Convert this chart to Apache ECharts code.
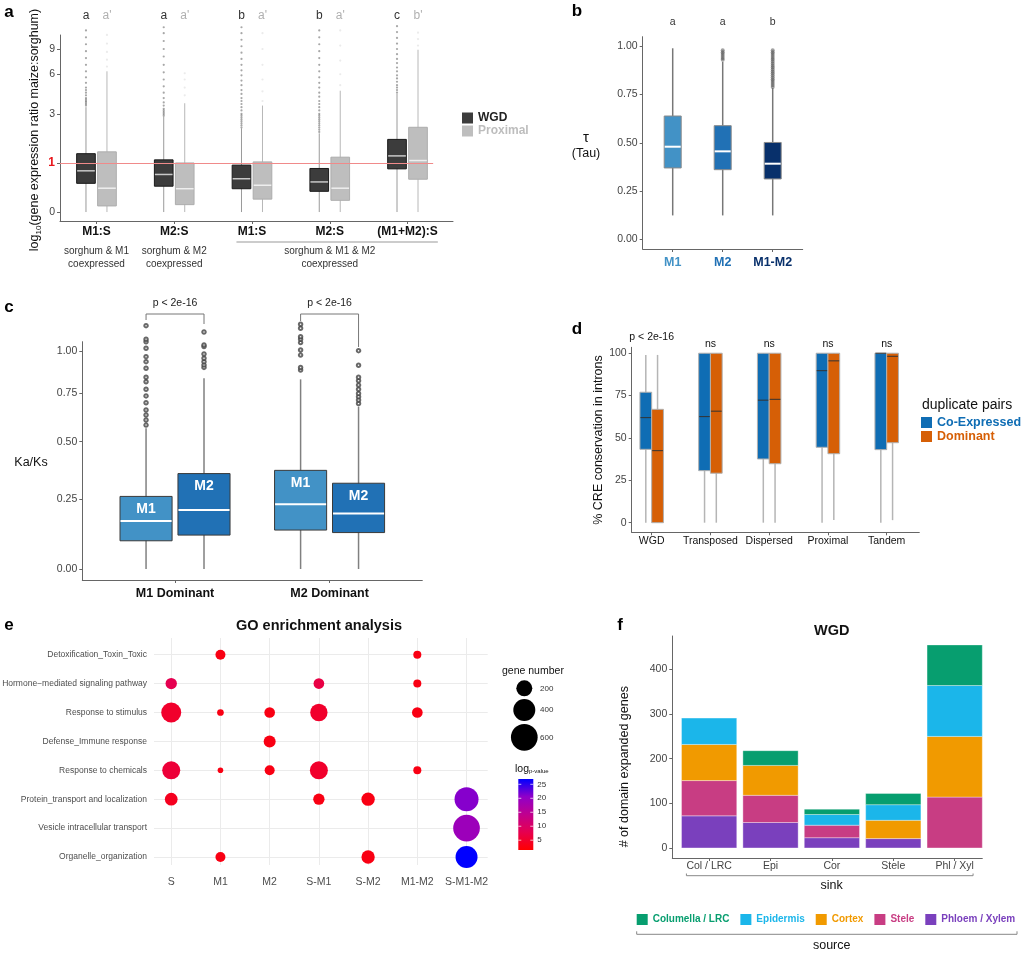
<!DOCTYPE html>
<html>
<head>
<meta charset="utf-8">
<script src="https://cdn.jsdelivr.net/npm/echarts@6/dist/echarts.min.js"></script>
<style>
  html, body { margin: 0; padding: 0; background: #fff; }
  #main { width: 1024px; height: 953px; }
</style>
</head>
<body>
<div id="main"></div>
<script>
const FONT = '"Liberation Sans", Arial, sans-serif'

// ---- panel a : log(1+x) expression ratio boxplots
const aGroups = ['M1:S', 'M2:S', 'M1:S', 'M2:S', '(M1+M2):S']
const aLettersWgd = ['a', 'a', 'b', 'b', 'c']
const aLettersProx = ["a'", "a'", "a'", "a'", "b'"]
const aTicks = [0, 1, 3, 6, 9]
// [lower whisker, q1, median, q3, upper whisker]
const aWgd = [[0, 0.50, 0.79, 1.28, 3.4], [0, 0.44, 0.70, 1.09, 2.85], [0, 0.39, 0.60, 0.94, 2.26], [0, 0.34, 0.53, 0.85, 2.04], [0, 0.84, 1.21, 1.79, 4.3]]
const aProx = [[0, 0.09, 0.40, 1.34, 6.3], [0, 0.11, 0.39, 1.0, 3.65], [0, 0.20, 0.46, 1.03, 3.5], [0, 0.18, 0.40, 1.17, 4.55], [0, 0.59, 1.07, 2.31, 8.9]]
const aWgdOut = [
  [3.5, 3.6, 3.7, 3.8, 3.9, 4.0, 4.2, 4.4, 4.6, 4.8, 5.2, 5.7, 6.3, 7, 7.8, 8.7, 9.7, 10.8, 12],
  [2.9, 3.0, 3.1, 3.2, 3.3, 3.5, 3.7, 4.0, 4.4, 4.9, 5.5, 6.2, 7, 8, 9, 10.2, 11.5, 12.6],
  [2.3, 2.4, 2.5, 2.6, 2.7, 2.8, 2.9, 3.0, 3.2, 3.4, 3.6, 3.8, 4.0, 4.3, 4.6, 5.0, 5.4, 5.9, 6.4, 7, 7.7, 8.5, 9.4, 10.4, 11.5, 12.6],
  [2.1, 2.2, 2.3, 2.4, 2.5, 2.6, 2.7, 2.8, 2.9, 3.0, 3.2, 3.4, 3.6, 3.8, 4.1, 4.4, 4.8, 5.2, 5.7, 6.3, 7, 7.8, 8.7, 9.7, 10.8, 12],
  [4.4, 4.6, 4.8, 5.0, 5.3, 5.6, 5.9, 6.3, 6.7, 7.2, 7.7, 8.3, 9, 9.8, 10.7, 11.7, 12.8]
]
const aProxOut = [[6.8, 7.6, 8.6, 9.8, 11.2], [4.2, 4.8, 5.5, 6.1], [3.8, 4.5, 5.5, 7, 9, 11.5], [5, 6, 7.5, 9.5, 12], [9.5, 10.5, 11.6]]

// ---- panel b : tau
const bCats = ['M1', 'M2', 'M1-M2']
const bColors = ['#4292c6', '#2171b5', '#08306b']
const bLetters = ['a', 'a', 'b']
const bStats = [[0.124, 0.370, 0.480, 0.639, 0.99], [0.124, 0.361, 0.456, 0.589, 0.92], [0.124, 0.313, 0.392, 0.502, 0.783]]
const bOut = [[], [0.93, 0.94, 0.95, 0.96, 0.97, 0.98],
  [0.79, 0.80, 0.81, 0.82, 0.83, 0.84, 0.85, 0.86, 0.87, 0.88, 0.89, 0.90, 0.91, 0.92, 0.93, 0.94, 0.95, 0.96, 0.97, 0.98]]
const bTicks = [0, 0.25, 0.5, 0.75, 1]

// ---- panel c : Ka/Ks
const cGroups = ['M1 Dominant', 'M2 Dominant']
const cTicks = [0, 0.25, 0.5, 0.75, 1]
const cM1 = [[0, 0.094, 0.165, 0.26, 0.565], [0, 0.132, 0.229, 0.369, 0.829]]
const cM2 = [[0, 0.114, 0.207, 0.355, 0.835], [0, 0.123, 0.193, 0.314, 0.677]]
const cM1Out = [[0.581, 0.607, 0.633, 0.659, 0.698, 0.735, 0.772, 0.815, 0.841, 0.895, 0.935, 0.966, 1.019, 1.062, 1.078, 1.17],
  [0.884, 0.90, 0.976, 1.008, 1.056, 1.078, 1.095, 1.152, 1.18]]
const cM2Out = [[0.90, 0.915, 0.935, 0.956, 0.983, 1.03, 1.041, 1.127],
  [0.694, 0.713, 0.731, 0.749, 0.772, 0.796, 0.821, 0.841, 0.913, 1.004]]

// ---- panel d : CRE conservation
const dCats = ['WGD', 'Transposed', 'Dispersed', 'Proximal', 'Tandem']
const dSig = ['p < 2e-16', 'ns', 'ns', 'ns', 'ns']
const dTicks = [0, 25, 50, 75, 100]
const dCo = [[0, 43.3, 62, 77, 99], [0, 30.7, 62.6, 100, 100], [0, 37.6, 72.3, 100, 100], [0, 44.5, 89.7, 100, 100], [0, 43.1, 100, 100, 100]]
const dDom = [[0, 0, 42.5, 66.9, 99], [0, 29.2, 65.8, 100, 100], [0, 34.8, 72.8, 100, 100], [1.6, 40.7, 95.5, 100, 100], [1.5, 47.2, 98.2, 100, 100]]

// ---- panel e : GO enrichment
const goTerms = ['Detoxification_Toxin_Toxic', 'Hormone\u2212mediated signaling pathway', 'Response to stimulus', 'Defense_Immune response',
  'Response to chemicals', 'Protein_transport and localization', 'Vesicle intracellular transport', 'Organelle_organization']
const goGroups = ['S', 'M1', 'M2', 'S-M1', 'S-M2', 'M1-M2', 'S-M1-M2']
// [group, term, gene number, log p-value]
const goPoints = [
  [1, 0, 63, 3], [5, 0, 32, 3],
  [0, 1, 88, 8], [3, 1, 75, 7], [5, 1, 32, 3],
  [0, 2, 326, 5], [1, 2, 15, 3], [2, 2, 75, 3], [3, 2, 239, 5], [5, 2, 75, 3],
  [2, 3, 102, 3],
  [0, 4, 260, 6], [1, 4, 3, 3], [2, 4, 63, 3], [3, 4, 260, 5], [5, 4, 32, 3],
  [0, 5, 117, 4], [3, 5, 88, 3], [4, 5, 131, 3], [6, 5, 480, 21],
  [6, 6, 600, 19],
  [1, 7, 63, 3], [4, 7, 131, 3], [6, 7, 400, 27]
]
const sizeLegend = [200, 400, 600]
const lpTicks = [5, 10, 15, 20, 25]
const lpMin = 1.5, lpMax = 26.9
const lpColors = ['#ff0000', '#e6004f', '#c0008e', '#9000c8', '#0000ff']

// ---- panel f : domain expanded genes (WGD)
const fSinks = ['Col / LRC', 'Epi', 'Cor', 'Stele', 'Phl / Xyl']
const fTicks = [0, 100, 200, 300, 400]
const fSources = ['Columella / LRC', 'Epidermis', 'Cortex', 'Stele', 'Phloem / Xylem']
const fColors = ['#079e6f', '#1bb6ea', '#f19a00', '#c83d83', '#7a40bd']
const fValues = [
  [0, 33, 12, 25, 91],    // Columella / LRC
  [59, 0, 24, 35, 114],   // Epidermis
  [81, 67, 0, 41, 136],   // Cortex
  [79, 61, 28, 0, 114],   // Stele
  [72, 57, 23, 21, 0]     // Phloem / Xylem
]

const tfA = v => Math.log10(1 + v)
const tfC = v => Math.log2(1 + v)
const ident = v => v
const sizeFn = g => Math.sqrt(28 + 1.14 * g)

function boxSeries(name, g, stats, tf, st) {
  return {
    name, type: 'custom', xAxisIndex: g, yAxisIndex: g,
    itemStyle: { color: Array.isArray(st.fill) ? st.fill[0] : st.fill },
    data: stats.map((s, i) => [i + 1].concat(s.map(tf))),
    renderItem: (params, api) => {
      const x = api.value(0) + st.offset
      const p = [1, 2, 3, 4, 5].map(d => api.coord([x, api.value(d)]))
      const cx = p[0][0]
      const w = api.size([st.width, 0])[0]
      const fill = Array.isArray(st.fill) ? st.fill[params.dataIndex] : st.fill
      const kids = [
        { type: 'line', shape: { x1: cx, y1: p[0][1], x2: cx, y2: p[4][1] }, style: { stroke: st.whisker, lineWidth: st.whiskerWidth || 1 } },
        { type: 'rect', shape: { x: cx - w / 2, y: p[3][1], width: w, height: p[1][1] - p[3][1] }, style: { fill, stroke: st.border, lineWidth: 1 } },
        { type: 'line', shape: { x1: cx - w / 2 + 0.5, y1: p[2][1], x2: cx + w / 2 - 0.5, y2: p[2][1] }, style: { stroke: st.median, lineWidth: st.medianWidth || 1.5 } }
      ]
      if (st.label) {
        kids.push({ type: 'text', x: cx, y: p[3][1] + 13, style: { text: st.label, fill: '#fff', font: 'bold 14px ' + FONT, align: 'center', verticalAlign: 'middle' } })
      }
      return { type: 'group', children: kids }
    }
  }
}

function outSeries(g, lists, offset, tf, st) {
  const data = []
  lists.forEach((l, i) => l.forEach(v => data.push([i + 1 + offset, tf(v)])))
  return {
    type: 'scatter', xAxisIndex: g, yAxisIndex: g, data, silent: true, clip: false,
    symbol: st.symbol || 'circle', symbolSize: st.size, itemStyle: st.itemStyle, z: 3
  }
}

function axis(g, min, max, ticks, formatter, o) {
  o = o || {}
  return {
    type: 'value', gridIndex: g, min, max, inverse: !!o.inverse, position: o.position,
    axisLine: { show: o.line !== false, onZero: false, lineStyle: { color: '#666', width: 1 } },
    axisTick: { show: o.tick !== false, customValues: ticks, length: 3, lineStyle: { color: '#666' } },
    axisLabel: {
      show: o.label !== false, customValues: ticks, formatter, color: o.color || '#444', fontSize: o.size || 10.5,
      fontFamily: FONT, fontWeight: o.weight || 'normal', margin: o.margin == null ? 5 : o.margin, rich: o.rich
    },
    splitLine: { show: !!o.split, lineStyle: { color: '#ebebeb', width: 1 } }
  }
}

const catFmt = cats => v => cats[Math.round(v) - 1]

const grids = [
  { left: 60, top: 35, width: 393, height: 186 },         // a
  { left: 642.7, top: 36.7, width: 160, height: 212.3 },  // b
  { left: 82.3, top: 341.7, width: 340, height: 238.3 },  // c
  { left: 631.7, top: 347.3, width: 287.6, height: 185 }, // d
  { left: 154, top: 638, width: 333.7, height: 227 },     // e
  { left: 672.3, top: 636, width: 310, height: 222 },     // f
  { left: 518.3, top: 779, width: 15, height: 71 }        // e colour bar
].map(g => Object.assign({ outerBoundsMode: 'none' }, g))

const xAxes = [
  axis(0, 0.531, 5.585, [1, 2, 3, 4, 5], catFmt(aGroups), { weight: 'bold', size: 12, color: '#111', margin: 5 }),
  axis(1, 0.4, 3.6, [1, 2, 3], v => '{c' + (Math.round(v) - 1) + '|' + bCats[Math.round(v) - 1] + '}', {
    margin: 7, rich: { c0: { color: bColors[0], fontWeight: 'bold', fontSize: 12.5, fontFamily: FONT }, c1: { color: bColors[1], fontWeight: 'bold', fontSize: 12.5, fontFamily: FONT }, c2: { color: bColors[2], fontWeight: 'bold', fontSize: 12.5, fontFamily: FONT } }
  }),
  axis(2, 0.4, 2.6, [1, 2], catFmt(cGroups), { weight: 'bold', size: 12.5, color: '#111', margin: 7 }),
  axis(3, 0.66, 5.555, [1, 2, 3, 4, 5], catFmt(dCats), { color: '#111', margin: 3 }),
  axis(4, 0.65, 7.43, [1, 2, 3, 4, 5, 6, 7], catFmt(goGroups), { line: false, tick: false, split: true, margin: 12, color: '#4d4d4d' }),
  axis(5, 0.4, 5.45, [1, 2, 3, 4, 5], catFmt(fSinks), { margin: 3, color: '#444' }),
  Object.assign(axis(6, 0, 1, [], null, { line: false, tick: false, label: false }), { show: false })
]

const yAxes = [
  axis(0, -0.055, 1.086, aTicks.map(tfA), v => {
    const n = Math.round(Math.pow(10, v) - 1)
    return n === 1 ? '{r|1}' : String(n)
  }, { rich: { r: { color: '#e8141a', fontWeight: 'bold', fontSize: 12, fontFamily: FONT } } }),
  axis(1, -0.05, 1.05, bTicks, v => v.toFixed(2)),
  axis(2, -0.0505, 1.044, cTicks.map(tfC), v => (Math.pow(2, v) - 1).toFixed(2)),
  axis(3, -5.67, 103.5, dTicks, v => String(v)),
  axis(4, 0.422, 8.277, [1, 2, 3, 4, 5, 6, 7, 8], catFmt(goTerms), { inverse: true, line: false, tick: false, split: true, size: 8.5, margin: 7, color: '#4d4d4d' }),
  axis(5, -22.5, 475, fTicks, v => String(v), { size: 10.5 }),
  axis(6, lpMin, lpMax, lpTicks, v => String(v), { position: 'right', line: false, tick: false, size: 8, margin: 4, color: '#333' })
]

const series = [
  Object.assign(boxSeries('WGD', 0, aWgd, tfA, { offset: -0.135, width: 0.24, fill: '#3c3c3c', border: '#1a1a1a', median: '#c8c8c8', whisker: '#9a9a9a', medianWidth: 1.5 }), {
    markLine: {
      silent: true, symbol: 'none', label: { show: false },
      lineStyle: { color: '#f08a8a', type: 'solid', width: 1 },
      data: [[{ coord: [0.531, tfA(1)] }, { coord: [5.33, tfA(1)] }]]
    }
  }),
  boxSeries('Proximal', 0, aProx, tfA, { offset: 0.135, width: 0.24, fill: '#bebebe', border: '#adadad', median: '#eeeeee', whisker: '#b8b8b8', medianWidth: 1.5 }),
  outSeries(0, aWgdOut, -0.135, tfA, { size: 2.2, itemStyle: { color: '#222', opacity: 0.4 } }),
  outSeries(0, aProxOut, 0.135, tfA, { size: 2.2, itemStyle: { color: '#999', opacity: 0.2 } }),

  boxSeries('tau', 1, bStats, ident, { offset: 0, width: 0.34, fill: bColors, border: '#8a8a8a', median: '#fff', whisker: '#777', whiskerWidth: 1.5, medianWidth: 2 }),
  outSeries(1, bOut, 0, ident, { size: 4, itemStyle: { color: '#444', opacity: 0.5 } }),

  boxSeries('cM1', 2, cM1, tfC, { offset: -0.1875, width: 0.337, fill: '#4292c6', border: '#3a3a3a', median: '#fff', whisker: '#808080', whiskerWidth: 1.5, medianWidth: 2, label: 'M1' }),
  boxSeries('cM2', 2, cM2, tfC, { offset: 0.1875, width: 0.337, fill: '#2171b5', border: '#3a3a3a', median: '#fff', whisker: '#808080', whiskerWidth: 1.5, medianWidth: 2, label: 'M2' }),
  outSeries(2, cM1Out, -0.1875, tfC, { size: 3.5, symbol: 'emptyCircle', itemStyle: { color: '#444', borderWidth: 0.8 } }),
  outSeries(2, cM2Out, 0.1875, tfC, { size: 3.5, symbol: 'emptyCircle', itemStyle: { color: '#444', borderWidth: 0.8 } }),

  boxSeries('Co-Expressed', 3, dCo, ident, { offset: -0.1, width: 0.2, fill: '#0f6db4', border: '#b0b0b0', median: '#333', whisker: '#b5b5b5', whiskerWidth: 1.5, medianWidth: 1 }),
  boxSeries('Dominant', 3, dDom, ident, { offset: 0.1, width: 0.2, fill: '#d65f06', border: '#b0b0b0', median: '#333', whisker: '#b5b5b5', whiskerWidth: 1.5, medianWidth: 1 }),

  {
    type: 'scatter', xAxisIndex: 4, yAxisIndex: 4, silent: true,
    data: goPoints.map(p => [p[0] + 1, p[1] + 1, p[2], p[3]]),
    symbolSize: val => sizeFn(val[2]),
    itemStyle: { opacity: 1 }
  }
]
const goIdx = series.length - 1

// stacked bars, bottom source first: Phloem / Xylem, Stele, Cortex, Epidermis, Columella / LRC
const fBase = fSinks.map(() => 0)
for (let j = fSources.length - 1; j >= 0; j--) {
  const data = fValues[j].map((v, i) => {
    const item = [i + 1, fBase[i], fBase[i] + v]
    fBase[i] += v
    return item
  })
  series.push({
    name: fSources[j], type: 'custom', xAxisIndex: 5, yAxisIndex: 5,
    itemStyle: { color: fColors[j] }, data,
    renderItem: (params, api) => {
      if (api.value(2) <= api.value(1)) return null
      const lo = api.coord([api.value(0), api.value(1)]), hi = api.coord([api.value(0), api.value(2)])
      const w = api.size([0.9, 0])[0]
      return {
        type: 'rect', shape: { x: lo[0] - w / 2, y: hi[1], width: w, height: lo[1] - hi[1] },
        style: { fill: fColors[j], stroke: 'rgba(255,255,255,0.35)', lineWidth: 1 }
      }
    }
  })
}

series.push({
  type: 'custom', xAxisIndex: 6, yAxisIndex: 6, silent: true, data: [[0, lpMin]],
  renderItem: (params, api) => {
    const a = api.coord([0, lpMax]), b = api.coord([1, lpMin])
    const stops = lpColors.slice().reverse().map((c, i, arr) => ({ offset: i / (arr.length - 1), color: c }))
    const kids = [{ type: 'rect', shape: { x: a[0], y: a[1], width: b[0] - a[0], height: b[1] - a[1] }, style: { fill: new echarts.graphic.LinearGradient(0, 0, 0, 1, stops) } }]
    lpTicks.forEach(t => {
      const y = api.coord([0, t])[1]
      kids.push({ type: 'line', shape: { x1: a[0], y1: y, x2: a[0] + 3, y2: y }, style: { stroke: 'rgba(255,255,255,0.7)' } })
      kids.push({ type: 'line', shape: { x1: b[0] - 3, y1: y, x2: b[0], y2: y }, style: { stroke: 'rgba(255,255,255,0.7)' } })
    })
    return { type: 'group', children: kids }
  }
})

const chart = echarts.init(document.getElementById('main'))
chart.setOption({
  animation: false,
  backgroundColor: '#fff',
  textStyle: { fontFamily: FONT },
  grid: grids,
  xAxis: xAxes,
  yAxis: yAxes,
  visualMap: { show: false, type: 'continuous', seriesIndex: goIdx, dimension: 3, min: lpMin, max: lpMax, inRange: { color: lpColors } },
  legend: [
    {
      left: 462, top: 112, orient: 'vertical', padding: 0, itemGap: 1, itemWidth: 11, itemHeight: 11, icon: 'rect',
      data: [{ name: 'WGD', textStyle: { color: '#222' } }, { name: 'Proximal', textStyle: { color: '#bdbdbd' } }],
      textStyle: { fontWeight: 'bold', fontSize: 12, fontFamily: FONT }
    },
    {
      left: 921, top: 416, orient: 'vertical', padding: 0, itemGap: 1, itemWidth: 11, itemHeight: 11, icon: 'rect',
      data: [{ name: 'Co-Expressed', textStyle: { color: '#0f6db4' } }, { name: 'Dominant', textStyle: { color: '#d65f06' } }],
      textStyle: { fontWeight: 'bold', fontSize: 12.5, fontFamily: FONT }
    },
    {
      left: 636.7, top: 914, width: 387, orient: 'horizontal', padding: 0, itemGap: 11, itemWidth: 11, itemHeight: 11, icon: 'rect',
      data: fSources.map((n, i) => ({ name: n, textStyle: { color: fColors[i] } })),
      textStyle: { fontWeight: 'bold', fontSize: 10, fontFamily: FONT }
    }
  ],
  series
})

// annotations placed from the axes
const px = (g, x, y) => chart.convertToPixel({ gridIndex: g }, [x, y])
const T = (x, y, text, size, o) => {
  o = o || {}
  return {
    type: 'text', x, y, rotation: o.rot || 0, silent: true,
    style: Object.assign({
      text, font: (o.weight || 'normal') + ' ' + size + 'px ' + FONT, fill: o.fill || '#222',
      align: o.align || 'center', verticalAlign: 'middle', lineHeight: o.lh
    }, o.style || {})
  }
}
const L = (points, stroke, w) => ({ type: 'polyline', silent: true, shape: { points }, style: { stroke: stroke || '#999', lineWidth: w || 1, fill: null } })

const gfx = []
// panel letters
gfx.push(T(9, 12, 'a', 17, { weight: 'bold', fill: '#000' }))
gfx.push(T(577, 11, 'b', 17, { weight: 'bold', fill: '#000' }))
gfx.push(T(9, 307, 'c', 17, { weight: 'bold', fill: '#000' }))
gfx.push(T(577, 329, 'd', 17, { weight: 'bold', fill: '#000' }))
gfx.push(T(9, 625, 'e', 17, { weight: 'bold', fill: '#000' }))
gfx.push(T(620, 625, 'f', 17, { weight: 'bold', fill: '#000' }))

// a
aGroups.forEach((_, i) => {
  gfx.push(T(px(0, i + 1 - 0.135, 0)[0], 16, aLettersWgd[i], 12, { fill: '#333' }))
  gfx.push(T(px(0, i + 1 + 0.135, 0)[0], 16, aLettersProx[i], 12, { fill: '#b0b0b0' }))
})
gfx.push(T(px(0, 1, 0)[0], 258, 'sorghum & M1\ncoexpressed', 10, { fill: '#333', lh: 13 }))
gfx.push(T(px(0, 2, 0)[0], 258, 'sorghum & M2\ncoexpressed', 10, { fill: '#333', lh: 13 }))
gfx.push(T(px(0, 4, 0)[0], 258, 'sorghum & M1 & M2\ncoexpressed', 10, { fill: '#333', lh: 13 }))
gfx.push(L([[px(0, 2.8, 0)[0], 242], [px(0, 5.39, 0)[0], 242]], '#999', 1))
gfx.push({
  type: 'text', x: 35, y: 130, rotation: Math.PI / 2, silent: true,
  style: {
    text: '{n|log}{s|10}{n|(gene expression ratio maize:sorghum)}', align: 'center', verticalAlign: 'middle',
    rich: { n: { fontSize: 12.5, fontFamily: FONT, fill: '#111' }, s: { fontSize: 8, fontFamily: FONT, fill: '#111', padding: [7, 0, 0, 0] } }
  }
})

// b
bCats.forEach((_, i) => gfx.push(T(px(1, i + 1, 0)[0], 22, bLetters[i], 10.5, { fill: '#333' })))
gfx.push(T(586, 138, '\u03c4', 15, { fill: '#111' }))
gfx.push(T(586, 154, '(Tau)', 12.5, { fill: '#111' }))

// c
gfx.push(T(31, 463, 'Ka/Ks', 12.5, { fill: '#111' }))
const cDrops = [[6, 10], [7, 33]]
cGroups.forEach((_, i) => {
  const xl = px(2, i + 1 - 0.1875, 0)[0], xr = px(2, i + 1 + 0.1875, 0)[0]
  const top = 314
  gfx.push(L([[xl, top + cDrops[i][0]], [xl, top], [xr, top], [xr, top + cDrops[i][1]]], '#777', 1))
  gfx.push(T(px(2, i + 1, 0)[0], 303.5, 'p < 2e-16', 10.5, { fill: '#222' }))
})

// d
dCats.forEach((_, i) => gfx.push(T(px(3, i + 1, 0)[0], i === 0 ? 337 : 344.5, dSig[i], 10.5, { fill: '#111' })))
gfx.push(T(599, 440, '% CRE conservation in introns', 12.5, { fill: '#111', rot: Math.PI / 2 }))
gfx.push(T(922, 405.5, 'duplicate pairs', 14, { fill: '#111', align: 'left' }))

// e
gfx.push(T(319, 625.7, 'GO enrichment analysis', 14.5, { weight: 'bold', fill: '#111' }))
gfx.push(T(502, 671, 'gene number', 10.5, { fill: '#111', align: 'left' }))
const sizeY = [688.3, 710, 737.3]
sizeLegend.forEach((g, i) => {
  gfx.push({ type: 'circle', silent: true, shape: { cx: 524.3, cy: sizeY[i], r: sizeFn(g) / 2 }, style: { fill: '#000' } })
  gfx.push(T(540, sizeY[i], String(g), 8, { fill: '#333', align: 'left' }))
})
gfx.push({
  type: 'text', x: 515, y: 769, silent: true,
  style: {
    text: '{n|log}{s|p-value}', align: 'left', verticalAlign: 'middle',
    rich: { n: { fontSize: 10.5, fontFamily: FONT, fill: '#111' }, s: { fontSize: 6, fontFamily: FONT, fill: '#111', padding: [5, 0, 0, 0] } }
  }
})

// f
gfx.push(T(831.7, 631, 'WGD', 14.5, { weight: 'bold', fill: '#111' }))
gfx.push(T(625, 766.7, '# of domain expanded genes', 12.5, { fill: '#111', rot: Math.PI / 2 }))
const sx0 = px(5, 0.63, 0)[0], sx1 = px(5, 5.3, 0)[0]
gfx.push(L([[sx0, 873.5], [sx0, 875.7], [sx1, 875.7], [sx1, 873.5]], '#888', 1))
gfx.push(T(831.7, 885.5, 'sink', 12.5, { fill: '#111' }))
gfx.push(L([[636.7, 931.3], [636.7, 934.3], [1017, 934.3], [1017, 931.3]], '#888', 1))
gfx.push(T(831.7, 945.5, 'source', 12.5, { fill: '#111' }))

chart.setOption({ graphic: gfx })
</script>
</body>
</html>
